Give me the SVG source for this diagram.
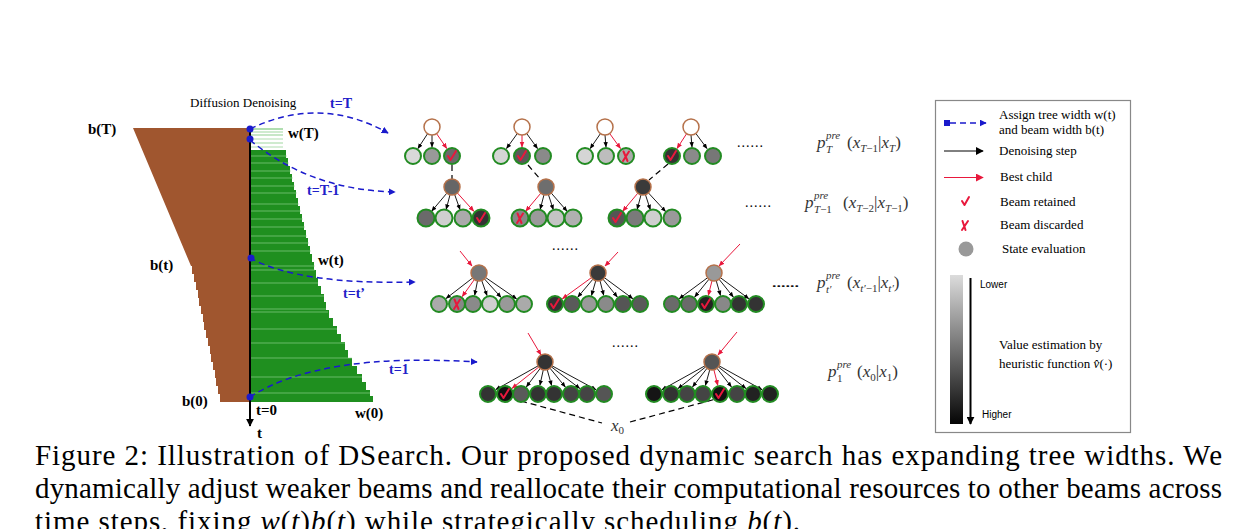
<svg xmlns="http://www.w3.org/2000/svg" width="1250" height="529" viewBox="0 0 1250 529">
<defs>
<marker id="ak" viewBox="0 0 10 10" refX="9" refY="5" markerWidth="6" markerHeight="6" orient="auto"><path d="M0,1 L10,5 L0,9 z" fill="#000"/></marker>
<marker id="ar" viewBox="0 0 10 10" refX="9" refY="5" markerWidth="6" markerHeight="6" orient="auto"><path d="M0,1 L10,5 L0,9 z" fill="#e8183c"/></marker>
<marker id="ab" viewBox="0 0 10 10" refX="9" refY="5" markerWidth="7" markerHeight="7" orient="auto" markerUnits="userSpaceOnUse"><path d="M0,0 L10,5 L0,10 z" fill="#1a1acc"/></marker>
<marker id="ak2" viewBox="0 0 10 10" refX="9" refY="5" markerWidth="8" markerHeight="8" orient="auto" markerUnits="userSpaceOnUse"><path d="M0,0 L10,5 L0,10 z" fill="#000"/></marker>
<marker id="ar2" viewBox="0 0 10 10" refX="9" refY="5" markerWidth="8" markerHeight="8" orient="auto" markerUnits="userSpaceOnUse"><path d="M0,0 L10,5 L0,10 z" fill="#e8183c"/></marker>
<linearGradient id="gv" x1="0" y1="0" x2="0" y2="1"><stop offset="0" stop-color="#dcdcdc"/><stop offset="1" stop-color="#050505"/></linearGradient>
<style>
.c{stroke:#228b22;stroke-width:2}
.r{stroke:#b5714a;stroke-width:1.5}
.k{stroke:#000;stroke-width:0.9;fill:none;marker-end:url(#ak)}
.rd{stroke:#e8183c;stroke-width:1;fill:none;marker-end:url(#ar)}
.ck{stroke:#e8183c;stroke-width:2;fill:none;stroke-linecap:round;stroke-linejoin:round}
.bl{stroke:#1a1acc;stroke-width:1.5;fill:none;stroke-dasharray:6 4;marker-end:url(#ab)}
.dk{stroke:#000;stroke-width:1.2;fill:none;stroke-dasharray:6 4}
.lb{font-family:"Liberation Serif",serif;font-weight:bold;font-size:15px;fill:#000}
.bt{font-family:"Liberation Serif",serif;font-weight:bold;font-size:14px;fill:#2020c8}
.s{font-family:"Liberation Serif",serif;font-size:13px;fill:#000}
.m{font-family:"Liberation Serif",serif;font-size:17px;fill:#333}
.sb{font-size:11px;font-style:italic}
.dots{font-family:"Liberation Serif",serif;font-size:14px;fill:#000;letter-spacing:1px}
.cap{font-family:"Liberation Serif",serif;font-size:29px;fill:#000}
.sans{font-family:"Liberation Sans",sans-serif;font-size:10px;fill:#000}
</style>
</defs>
<rect width="1250" height="529" fill="#fff"/>

<g id="timeline">
<polygon fill="#a0562f" points="133,128 249,128 249,402 220,402 220,394 218,394 218,386 216,386 216,378 215,378 215,370 213,370 213,362 211,362 211,354 210,354 210,346 208,346 208,338 206,338 206,330 204,330 204,322 203,322 203,314 201,314 201,306 199,306 199,298 198,298 198,290 196,290 196,282 194,282 194,274 192,274 192,266 191,266"/>
<g stroke="#8fd08f" stroke-width="1.4">
<line x1="251" y1="129" x2="283" y2="129"/><line x1="251" y1="132" x2="283" y2="132" opacity="0.6"/><line x1="251" y1="135" x2="283" y2="135" opacity="0.7"/><line x1="251" y1="139" x2="283" y2="139" opacity="0.5"/><line x1="251" y1="143" x2="283" y2="143" opacity="0.6"/><line x1="251" y1="147" x2="283" y2="147" opacity="0.5"/>
</g>
<polygon fill="#1f8f1f" points="250,150 286,150 286,158 288,158 288,166 290,166 290,174 292,174 292,182 294,182 294,190 296,190 296,198 298,198 298,206 300,206 300,214 302,214 302,222 304,222 304,230 306,230 306,238 308,238 308,246 310,246 310,254 312,254 312,262 314,262 314,270 316,270 316,278 318,278 318,286 321,286 321,294 324,294 324,302 326,302 326,310 329,310 329,318 333,318 333,326 337,326 337,334 341,334 341,342 345,342 345,350 348,350 348,358 352,358 352,366 357,366 357,374 362,374 362,382 366,382 366,390 370,390 370,396 373,396 373,402 250,402"/>
<g stroke="#9ad89a" stroke-width="1" opacity="0.6">
<line x1="251" y1="156" x2="287" y2="156"/><line x1="251" y1="163" x2="289" y2="163"/><line x1="251" y1="171" x2="291" y2="171"/><line x1="251" y1="178" x2="293" y2="178"/><line x1="251" y1="186" x2="295" y2="186"/><line x1="251" y1="193" x2="297" y2="193"/><line x1="251" y1="204" x2="299" y2="204"/><line x1="251" y1="211" x2="301" y2="211"/><line x1="251" y1="219" x2="303" y2="219"/><line x1="251" y1="227" x2="305" y2="227"/><line x1="251" y1="236" x2="307" y2="236"/><line x1="251" y1="243" x2="309" y2="243"/><line x1="251" y1="251" x2="311" y2="251"/><line x1="251" y1="266" x2="315" y2="266"/><line x1="251" y1="270" x2="315" y2="270"/><line x1="251" y1="283" x2="318" y2="283"/><line x1="251" y1="296" x2="324" y2="296"/><line x1="251" y1="309" x2="326" y2="309"/><line x1="251" y1="312" x2="328" y2="312"/><line x1="251" y1="329" x2="337" y2="329"/><line x1="251" y1="343" x2="345" y2="343"/><line x1="251" y1="358" x2="352" y2="358"/><line x1="251" y1="377" x2="362" y2="377"/><line x1="251" y1="393" x2="370" y2="393"/>
</g>
<line x1="250" y1="128" x2="250" y2="426" stroke="#000" stroke-width="2" marker-end="url(#ak2)"/>
<text class="s" x="190" y="107">Diffusion Denoising</text>
<text class="lb" x="88" y="134">b(T)</text>
<text class="lb" x="150" y="270">b(t)</text>
<text class="lb" x="182" y="406">b(0)</text>
<text class="lb" x="288" y="138">w(T)</text>
<text class="lb" x="318" y="265">w(t)</text>
<text class="lb" x="355" y="418">w(0)</text>
<text class="lb" x="256" y="415">t=0</text>
<text class="lb" x="257" y="438">t</text>
</g>

<g id="connectors">
<path class="bl" d="M250,129 Q320,95 388,133"/>
<path class="bl" d="M250,140 Q310,190 395,192"/>
<path class="bl" d="M250,258 Q300,285 415,282"/>
<path class="bl" d="M250,397 Q320,352 477,362"/>
<g fill="#1a1acc">
<circle cx="250" cy="129" r="3.5"/><circle cx="250" cy="139" r="3.5"/><circle cx="251" cy="258" r="3.5"/><circle cx="250" cy="397" r="3.5"/>
</g>
<text class="bt" x="330" y="108">t=T</text>
<text class="bt" x="307" y="195">t=T-1</text>
<text class="bt" x="343" y="298">t=t’</text>
<text class="bt" x="389" y="374">t=1</text>
<path class="dk" d="M452,165 L452,179"/>
<path class="dk" d="M528,165 L541,180"/>
<path class="dk" d="M668,164 L649,180"/>
<path class="dk" d="M521,401 L602,423"/>
<path class="dk" d="M630,422 L716,399"/>
<line class="rd" x1="460" y1="251" x2="472" y2="266"/>
<line class="rd" x1="618" y1="252" x2="605" y2="266"/>
<line class="rd" x1="740" y1="244" x2="719" y2="266"/>
<line class="rd" x1="528" y1="333" x2="541" y2="355"/>
<line class="rd" x1="737" y1="332" x2="718" y2="355"/>
</g>

<g id="tree-r1-1">
<line class="k" x1="427.6" y1="133.7" x2="417.9" y2="148.5"/><line class="k" x1="432" y1="135" x2="432" y2="147"/><line class="rd" x1="436.6" y1="133.7" x2="446.8" y2="148.5"/>
<circle class="r" cx="432" cy="127" r="8" fill="#fff"/>
<circle class="c" cx="413" cy="156" r="8" fill="#d9d9d9"/><circle class="c" cx="432" cy="156" r="8" fill="#999"/><circle class="c" cx="452" cy="156" r="8" fill="#6a6a6a"/>
<path class="ck" d="M448,156 L450.5,160 L456,151"/>
</g>
<g id="tree-r1-2">
<line class="k" x1="517.2" y1="133.7" x2="506.5" y2="148.5"/><line class="rd" x1="522" y1="135" x2="522" y2="147"/><line class="k" x1="526.8" y1="133.7" x2="537.5" y2="148.5"/>
<circle class="r" cx="522" cy="127" r="8" fill="#fff"/>
<circle class="c" cx="501" cy="156" r="8" fill="#d5d5d5"/><circle class="c" cx="522" cy="156" r="8" fill="#5a5a5a"/><circle class="c" cx="543" cy="156" r="8" fill="#8a8a8a"/>
<path class="ck" d="M518,156 L520.5,160 L526,151"/>
</g>
<g id="tree-r1-3">
<line class="k" x1="600.4" y1="133.7" x2="590.2" y2="148.5"/><line class="k" x1="605" y1="135" x2="606" y2="147"/><line class="rd" x1="609.8" y1="133.7" x2="620.5" y2="148.5"/>
<circle class="r" cx="605" cy="127" r="8" fill="#fff"/>
<circle class="c" cx="585" cy="156" r="8" fill="#d5d5d5"/><circle class="c" cx="606" cy="156" r="8" fill="#bdbdbd"/><circle class="c" cx="626" cy="156" r="8" fill="#aaa"/>
<path class="ck" d="M623.5,151.5 L627.5,161 M629,151.5 L623,161"/>
</g>
<g id="tree-r1-4">
<line class="rd" x1="686.6" y1="133.7" x2="677" y2="148.5"/><line class="k" x1="691" y1="135" x2="692" y2="147"/><line class="k" x1="696" y1="133.7" x2="707" y2="148.5"/>
<circle class="r" cx="691" cy="127" r="8" fill="#fff"/>
<circle class="c" cx="672" cy="156" r="8" fill="#333"/><circle class="c" cx="692" cy="156" r="8" fill="#8a8a8a"/><circle class="c" cx="713" cy="156" r="8" fill="#777"/>
<path class="ck" d="M668,156 L670.5,160 L676,151"/>
</g>
<text class="dots" x="737" y="147">......</text>

<g id="tree-r2-1">
<line class="k" x1="446.8" y1="193.2" x2="431.7" y2="211.2"/><line class="k" x1="450" y1="194.8" x2="446.2" y2="209.3"/><line class="k" x1="454.6" y1="194.4" x2="460" y2="209.6"/><line class="rd" x1="457.3" y1="192.9" x2="473.8" y2="211.2"/>
<circle class="r" cx="452" cy="187" r="8" fill="#666"/>
<circle class="c" cx="426" cy="218" r="8.5" fill="#6a6a6a"/><circle class="c" cx="444" cy="218" r="8.5" fill="#cfcfcf"/><circle class="c" cx="463" cy="218" r="8.5" fill="#aaa"/><circle class="c" cx="481" cy="218" r="8.5" fill="#333"/>
<path class="ck" d="M477,218 L479.5,222 L485,213"/>
</g>
<g id="tree-r2-2">
<line class="rd" x1="540.8" y1="193.2" x2="525.7" y2="211.2"/><line class="k" x1="544" y1="194.8" x2="540.2" y2="209.3"/><line class="k" x1="548.4" y1="194.5" x2="553.3" y2="209.6"/><line class="k" x1="551.2" y1="193" x2="567" y2="211.2"/>
<circle class="r" cx="546" cy="187" r="8" fill="#6e6e6e"/>
<circle class="c" cx="520" cy="218" r="8.5" fill="#888"/><circle class="c" cx="538" cy="218" r="8.5" fill="#9a9a9a"/><circle class="c" cx="556" cy="218" r="8.5" fill="#c4c4c4"/><circle class="c" cx="573" cy="218" r="8.5" fill="#b0b0b0"/>
<path class="ck" d="M517.5,213.5 L521.5,223 M523,213.5 L517,223"/>
</g>
<g id="tree-r2-3">
<line class="rd" x1="637.8" y1="193.2" x2="622.7" y2="211.2"/><line class="k" x1="641" y1="194.8" x2="637.2" y2="209.3"/><line class="k" x1="645.4" y1="194.5" x2="650.3" y2="209.6"/><line class="k" x1="648.5" y1="193" x2="665.6" y2="211.5"/>
<circle class="r" cx="643" cy="187" r="8" fill="#3a3a3a"/>
<circle class="c" cx="617" cy="218" r="8.5" fill="#555"/><circle class="c" cx="635" cy="218" r="8.5" fill="#7a7a7a"/><circle class="c" cx="653" cy="218" r="8.5" fill="#cfcfcf"/><circle class="c" cx="672" cy="218" r="8.5" fill="#999"/>
<path class="ck" d="M613,218 L615.5,222 L621,213"/>
</g>
<text class="dots" x="745" y="207">......</text>

<text class="dots" x="552" y="250">......</text>
<g id="tree-r3-1">
<line class="k" x1="472.7" y1="277.9" x2="446.1" y2="298.5"/><line class="rd" x1="474.4" y1="279.5" x2="462.2" y2="296.6"/><line class="k" x1="477.5" y1="280.8" x2="474.7" y2="295.2"/><line class="k" x1="481.7" y1="280.5" x2="487" y2="295.5"/><line class="k" x1="484.4" y1="278.9" x2="501" y2="297.3"/><line class="k" x1="485.6" y1="277.5" x2="516.6" y2="298.9"/>
<circle class="r" cx="479" cy="273" r="8" fill="#777"/>
<circle class="c" cx="439" cy="304" r="8" fill="#aaa"/><circle class="c" cx="457" cy="304" r="8" fill="#888"/><circle class="c" cx="473" cy="304" r="8" fill="#8a8a8a"/><circle class="c" cx="490" cy="304" r="8" fill="#cfcfcf"/><circle class="c" cx="507" cy="304" r="8" fill="#999"/><circle class="c" cx="524" cy="304" r="8" fill="#aaa"/>
<path class="ck" d="M454.5,299.5 L458.5,309 M460,299.5 L454,309"/>
</g>
<g id="tree-r3-2">
<line class="rd" x1="591.5" y1="277.6" x2="562.3" y2="298.8"/><line class="k" x1="592.9" y1="279.2" x2="577.8" y2="297.1"/><line class="k" x1="595.8" y1="280.7" x2="591.5" y2="295.4"/><line class="k" x1="600" y1="280.8" x2="603.7" y2="295.3"/><line class="k" x1="603" y1="279.2" x2="617.3" y2="297"/><line class="k" x1="604.4" y1="277.7" x2="632.8" y2="298.7"/>
<circle class="r" cx="598" cy="273" r="8" fill="#3a3a3a"/>
<circle class="c" cx="555" cy="304" r="8" fill="#333"/><circle class="c" cx="572" cy="304" r="8" fill="#5a5a5a"/><circle class="c" cx="589" cy="304" r="8" fill="#9a9a9a"/><circle class="c" cx="606" cy="304" r="8" fill="#8a8a8a"/><circle class="c" cx="623" cy="304" r="8" fill="#555"/><circle class="c" cx="640" cy="304" r="8" fill="#5a5a5a"/>
<path class="ck" d="M551,304 L553.5,308 L559,299"/>
</g>
<g id="tree-r3-3">
<line class="k" x1="707.6" y1="277.7" x2="679.2" y2="298.7"/><line class="k" x1="709" y1="279.2" x2="694.7" y2="297"/><line class="rd" x1="712" y1="280.8" x2="708.3" y2="295.3"/><line class="k" x1="716.2" y1="280.7" x2="720.5" y2="295.4"/><line class="k" x1="719" y1="279.2" x2="733.3" y2="297"/><line class="k" x1="720.4" y1="277.7" x2="748.8" y2="298.7"/>
<circle class="r" cx="714" cy="273" r="8" fill="#999"/>
<circle class="c" cx="672" cy="304" r="8" fill="#6a6a6a"/><circle class="c" cx="689" cy="304" r="8" fill="#6a6a6a"/><circle class="c" cx="706" cy="304" r="8" fill="#222"/><circle class="c" cx="723" cy="304" r="8" fill="#888"/><circle class="c" cx="739" cy="304" r="8" fill="#333"/><circle class="c" cx="756" cy="304" r="8" fill="#333"/>
<path class="ck" d="M702,304 L704.5,308 L710,299"/>
</g>
<text class="dots" x="773" y="287">......</text>

<text class="dots" x="612" y="347">......</text>
<g id="tree-r4-1">
<line class="k" x1="538" y1="365.9" x2="495.8" y2="389.6"/><line class="rd" x1="538.8" y1="367" x2="512" y2="388.4"/><line class="k" x1="540.2" y1="368.4" x2="526.4" y2="386.8"/><line class="k" x1="543.3" y1="369.8" x2="539.9" y2="385.2"/><line class="k" x1="547.2" y1="369.7" x2="551.6" y2="385.4"/><line class="k" x1="550" y1="368.2" x2="565.3" y2="387"/><line class="k" x1="551.4" y1="366.9" x2="579.8" y2="388.5"/><line class="k" x1="552" y1="365.8" x2="596" y2="389.7"/>
<circle class="r" cx="545" cy="362" r="8" fill="#333"/>
<circle class="c" cx="488" cy="394" r="8" fill="#333"/><circle class="c" cx="505" cy="394" r="8" fill="#111"/><circle class="c" cx="521" cy="394" r="8" fill="#5a5a5a"/><circle class="c" cx="538" cy="394" r="8" fill="#333"/><circle class="c" cx="554" cy="394" r="8" fill="#333"/><circle class="c" cx="571" cy="394" r="8" fill="#444"/><circle class="c" cx="587" cy="394" r="8" fill="#444"/><circle class="c" cx="604" cy="394" r="8" fill="#555"/>
<path class="ck" d="M501,394 L503.5,398 L509,389"/>
</g>
<g id="tree-r4-2">
<line class="k" x1="705" y1="365.8" x2="661.9" y2="389.7"/><line class="k" x1="705.7" y1="366.9" x2="678.1" y2="388.5"/><line class="k" x1="707" y1="368.3" x2="692.6" y2="386.9"/><line class="k" x1="709.8" y1="369.7" x2="705.4" y2="385.4"/><line class="rd" x1="713.9" y1="369.8" x2="717.8" y2="385.3"/><line class="k" x1="717" y1="368.3" x2="731.4" y2="386.9"/><line class="k" x1="718.3" y1="366.9" x2="745.9" y2="388.5"/><line class="k" x1="719" y1="365.8" x2="762.1" y2="389.7"/>
<circle class="r" cx="712" cy="362" r="8" fill="#555"/>
<circle class="c" cx="654" cy="394" r="8" fill="#151515"/><circle class="c" cx="671" cy="394" r="8" fill="#333"/><circle class="c" cx="687" cy="394" r="8" fill="#444"/><circle class="c" cx="703" cy="394" r="8" fill="#444"/><circle class="c" cx="720" cy="394" r="8" fill="#111"/><circle class="c" cx="737" cy="394" r="8" fill="#444"/><circle class="c" cx="753" cy="394" r="8" fill="#222"/><circle class="c" cx="770" cy="394" r="8" fill="#222"/>
<path class="ck" d="M716,394 L718.5,398 L724,389"/>
</g>
<text class="m" x="611" y="431" font-style="italic" font-size="16">x<tspan font-size="11" dy="3" font-style="normal">0</tspan></text>

<g id="formulas" class="m">
<text x="817" y="148" font-style="italic">p</text>
<text class="sb" x="826" y="139">pre</text>
<text class="sb" x="826" y="153">T</text>
<text x="847" y="148">(<tspan font-style="italic">x</tspan><tspan class="sb" dy="4">T</tspan><tspan font-size="11">−1</tspan><tspan dy="-4">|</tspan><tspan font-style="italic">x</tspan><tspan class="sb" dy="4">T</tspan><tspan dy="-4">)</tspan></text>

<text x="805" y="208" font-style="italic">p</text>
<text class="sb" x="814" y="199">pre</text>
<text x="814" y="213" font-size="11"><tspan font-style="italic">T</tspan>−1</text>
<text x="843" y="208">(<tspan font-style="italic">x</tspan><tspan class="sb" dy="4">T</tspan><tspan font-size="11">−2</tspan><tspan dy="-4">|</tspan><tspan font-style="italic">x</tspan><tspan class="sb" dy="4">T</tspan><tspan font-size="11">−1</tspan><tspan dy="-4">)</tspan></text>

<text class="dots" x="772" y="287">......</text>
<text x="817" y="288" font-style="italic">p</text>
<text class="sb" x="826" y="279">pre</text>
<text class="sb" x="826" y="293">t′</text>
<text x="847" y="288">(<tspan font-style="italic">x</tspan><tspan class="sb" dy="4">t′</tspan><tspan font-size="11">−1</tspan><tspan dy="-4">|</tspan><tspan font-style="italic">x</tspan><tspan class="sb" dy="4">t′</tspan><tspan dy="-4">)</tspan></text>

<text x="828" y="377" font-style="italic">p</text>
<text class="sb" x="837" y="368">pre</text>
<text x="837" y="382" font-size="11">1</text>
<text x="857" y="377">(<tspan font-style="italic">x</tspan><tspan font-size="11" dy="4">0</tspan><tspan dy="-4">|</tspan><tspan font-style="italic">x</tspan><tspan font-size="11" dy="4">1</tspan><tspan dy="-4">)</tspan></text>
</g>

<g id="legend">
<rect x="935.5" y="100.5" width="195" height="332" fill="#fff" stroke="#888" stroke-width="1.2"/>
<rect x="944" y="120" width="6" height="6" fill="#1a1acc"/>
<line x1="950" y1="123" x2="986" y2="123" stroke="#1a1acc" stroke-width="1.5" stroke-dasharray="6 4" marker-end="url(#ab)"/>
<text class="s" x="999" y="118.5">Assign tree width w(t)</text>
<text class="s" x="999" y="134">and beam width b(t)</text>
<line x1="944" y1="151" x2="983" y2="151" stroke="#000" stroke-width="1" marker-end="url(#ak2)"/>
<text class="s" x="999" y="155">Denoising step</text>
<line x1="944" y1="177.5" x2="983" y2="177.5" stroke="#e8183c" stroke-width="1" marker-end="url(#ar2)"/>
<text class="s" x="1000" y="181">Best child</text>
<path class="ck" d="M962,201 L964.5,205 L969,197"/>
<text class="s" x="1000" y="206">Beam retained</text>
<path class="ck" d="M962.5,221 L965.5,230 M968,221 L962,230" stroke-width="1.6"/>
<text class="s" x="1000" y="229">Beam discarded</text>
<circle cx="966" cy="249" r="7.5" fill="#999"/>
<text class="s" x="1002" y="253">State evaluation</text>
<rect x="950" y="275" width="13" height="149" fill="url(#gv)"/>
<line x1="970.5" y1="278" x2="970.5" y2="424" stroke="#000" stroke-width="2" marker-end="url(#ak2)"/>
<text class="sans" x="980" y="288">Lower</text>
<text class="sans" x="982" y="418">Higher</text>
<text class="s" x="999" y="349" font-size="13.5">Value estimation by</text>
<text class="s" x="999" y="368" font-size="13.5">heuristic function <tspan font-style="italic">v̂</tspan>(·)</text>
</g>

<g id="caption" class="cap">
<text x="35" y="465" textLength="1187" lengthAdjust="spacing">Figure 2: Illustration of DSearch.  Our proposed dynamic search has expanding tree widths.  We</text>
<text x="35" y="498" textLength="1187" lengthAdjust="spacing">dynamically adjust weaker beams and reallocate their computational resources to other beams across</text>
<text x="35" y="531" textLength="765" lengthAdjust="spacing">time steps, fixing <tspan font-style="italic">w</tspan>(<tspan font-style="italic">t</tspan>)<tspan font-style="italic">b</tspan>(<tspan font-style="italic">t</tspan>) while strategically scheduling <tspan font-style="italic">b</tspan>(<tspan font-style="italic">t</tspan>).</text>
</g>
</svg>
